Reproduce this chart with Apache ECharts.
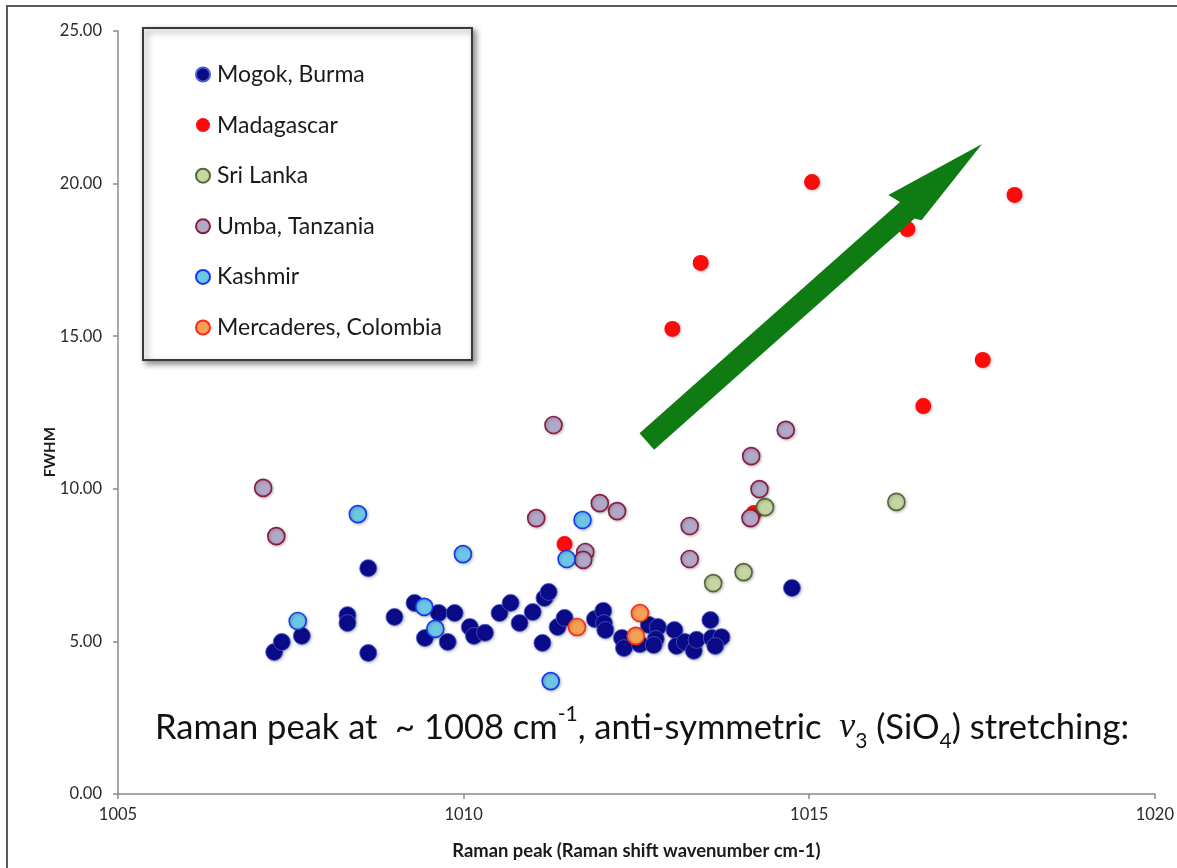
<!DOCTYPE html>
<html>
<head>
<meta charset="utf-8">
<script src="https://cdn.jsdelivr.net/npm/echarts@6/dist/echarts.min.js"></script>
<style>
  html, body { margin: 0; padding: 0; background: #ffffff; }
  #chart { width: 1177px; height: 868px; }
</style>
</head>
<body>
<div id="chart"></div>
<script>
// Raman peak position (cm-1) and FWHM for sapphire samples by origin
const seriesNames = ['Mogok, Burma', 'Madagascar', 'Sri Lanka', 'Umba, Tanzania', 'Kashmir', 'Mercaderes, Colombia'];

const mogok = [
  [1007.26, 4.65], [1007.37, 4.98], [1007.66, 5.18], [1008.62, 7.40], [1008.32, 5.86],
  [1008.32, 5.60], [1008.62, 4.62], [1009.00, 5.80], [1009.29, 6.26], [1009.64, 5.93],
  [1009.87, 5.93], [1009.44, 5.11], [1009.77, 4.98], [1010.09, 5.47], [1010.15, 5.18],
  [1010.31, 5.28], [1010.52, 5.93], [1010.68, 6.26], [1010.81, 5.60], [1011.00, 5.96],
  [1011.17, 6.42], [1011.23, 6.62], [1011.14, 4.95], [1011.36, 5.47], [1011.46, 5.77],
  [1011.90, 5.73], [1012.02, 6.00], [1012.03, 5.60], [1012.05, 5.37], [1012.29, 5.11],
  [1012.32, 4.78], [1012.55, 4.91], [1012.68, 5.54], [1012.81, 5.47], [1012.78, 5.08],
  [1012.75, 4.88], [1013.05, 5.37], [1013.08, 4.85], [1013.20, 4.98], [1013.33, 4.69],
  [1013.37, 5.05], [1013.57, 5.70], [1013.59, 5.11], [1013.73, 5.14], [1013.64, 4.85],
  [1014.75, 6.75]
];
const madagascar = [
  [1015.04, 20.05], [1017.97, 19.63], [1016.42, 18.51], [1013.43, 17.40], [1013.02, 15.24],
  [1017.51, 14.22], [1016.65, 12.71], [1011.46, 8.19], [1014.20, 9.21]
];
const sriLanka = [
  [1013.61, 6.91], [1014.05, 7.27], [1014.36, 9.40], [1016.26, 9.57]
];
const umba = [
  [1007.10, 10.03], [1007.29, 8.45], [1011.30, 12.09], [1011.05, 9.04], [1011.97, 9.53],
  [1012.22, 9.27], [1011.76, 7.93], [1011.73, 7.67], [1013.27, 8.78], [1013.27, 7.70],
  [1014.16, 11.07], [1014.28, 9.99], [1014.15, 9.04], [1014.66, 11.93]
];
const kashmir = [
  [1007.60, 5.67], [1008.47, 9.17], [1009.43, 6.13], [1009.59, 5.41], [1009.99, 7.86],
  [1011.72, 8.98], [1011.49, 7.70], [1011.26, 3.70]
];
const mercaderes = [
  [1011.64, 5.47], [1012.55, 5.93], [1012.49, 5.18]
];

// Axis ranges and tick step
const xRange = [1005, 1020, 5];
const yRange = [0, 25, 5];

// Trend arrow, tail and tip in data units
const arrowTail = [1012.65, 11.55];
const arrowTip = [1017.50, 21.30];

const FONT = 'Lato, "Open Sans", sans-serif';

const styles = [
  { color: '#0b0b8a', borderColor: '#4b5bd0', borderWidth: 0.8, size: 17 },
  { color: '#ff0a0a', borderColor: '#ff0a0a', borderWidth: 0, size: 16 },
  { color: '#c6d6a2', borderColor: '#56663a', borderWidth: 1.6, size: 17 },
  { color: '#b1a8c7', borderColor: '#8a1a40', borderWidth: 1.6, size: 17 },
  { color: '#6cc6e4', borderColor: '#1437f5', borderWidth: 1.6, size: 17 },
  { color: '#f6a055', borderColor: '#ff2a1a', borderWidth: 1.6, size: 17 }
];
const datasets = [mogok, madagascar, sriLanka, umba, kashmir, mercaderes];

const chart = echarts.init(document.getElementById('chart'), null, { renderer: 'canvas' });

const series = datasets.map((d, i) => ({
  name: seriesNames[i],
  type: 'scatter',
  data: d,
  symbol: 'circle',
  symbolSize: styles[i].size,
  itemStyle: {
    color: styles[i].color,
    borderColor: styles[i].borderColor,
    borderWidth: styles[i].borderWidth,
    opacity: 1,
    shadowColor: 'rgba(0,0,0,0.25)',
    shadowBlur: 3,
    shadowOffsetX: 1,
    shadowOffsetY: 1
  },
  emphasis: { disabled: true },
  z: 2 + i
}));

chart.setOption({
  animation: false,
  backgroundColor: '#ffffff',
  grid: { left: 118, right: 12, top: 31, bottom: 74 },
  xAxis: {
    type: 'value',
    min: xRange[0], max: xRange[1], interval: xRange[2],
    name: 'Raman peak (Raman shift wavenumber cm-1)',
    nameLocation: 'middle',
    nameGap: 48,
    nameTextStyle: { fontFamily: FONT, fontWeight: 'bold', fontSize: 18.4, color: '#1a1a1a' },
    axisLine: { show: true, lineStyle: { color: '#8a8a8a', width: 1.5 } },
    axisTick: { show: true, length: 5, lineStyle: { color: '#8a8a8a', width: 1.5 } },
    axisLabel: { fontFamily: FONT, fontSize: 16.5, color: '#2a2a2a', margin: 12,
      formatter: v => String(v) },
    splitLine: { show: false }
  },
  yAxis: {
    type: 'value',
    min: yRange[0], max: yRange[1], interval: yRange[2],
    axisLine: { show: true, lineStyle: { color: '#8a8a8a', width: 1.5 } },
    axisTick: { show: true, length: 5, lineStyle: { color: '#8a8a8a', width: 1.5 } },
    axisLabel: { fontFamily: FONT, fontSize: 16.5, color: '#2a2a2a', margin: 16,
      formatter: v => v.toFixed(2) },
    splitLine: { show: false }
  },
  legend: {
    orient: 'vertical',
    left: 143, top: 28,
    padding: [35, 30, 21, 52],
    itemGap: 27.6,
    itemWidth: 14, itemHeight: 14,
    icon: 'circle',
    backgroundColor: '#ffffff',
    borderColor: '#3a3a3a',
    borderWidth: 2,
    shadowColor: 'rgba(0,0,0,0.45)',
    shadowBlur: 6,
    shadowOffsetX: 3,
    shadowOffsetY: 3,
    textStyle: { fontFamily: FONT, fontSize: 23, color: '#1a1a1a', lineHeight: 20, padding: [0, 0, 0, 2] },
    selectedMode: false,
    data: seriesNames
  },
  series: series
});

// Decorations placed from axis coordinates
function drawGraphics() {
  const p0 = chart.convertToPixel({ gridIndex: 0 }, arrowTail);
  const p1 = chart.convertToPixel({ gridIndex: 0 }, arrowTip);
  const dx = p1[0] - p0[0], dy = p1[1] - p0[1];
  const len = Math.hypot(dx, dy);
  const ux = dx / len, uy = dy / len;
  const nx = -uy, ny = ux;
  const shaftHalf = 11, headLen = 100, headLeft = 24, headRight = 17;
  const at = (a, p) => [p0[0] + ux * a + nx * p, p0[1] + uy * a + ny * p];
  const hb = len - headLen;
  const arrowPts = [
    at(0, -shaftHalf), at(hb, -shaftHalf), at(hb - 4, -headLeft), at(len, 0),
    at(hb + 4, headRight), at(hb, shaftHalf), at(0, shaftHalf)
  ];

  const yMid = chart.convertToPixel({ gridIndex: 0 }, [xRange[0], 11.2]);

  chart.setOption({
    graphic: [
      {
        type: 'polyline', silent: true, z: 0,
        shape: { points: [[7, 868], [7, 6], [1177, 6]] },
        style: { stroke: '#5a5a5a', lineWidth: 2, fill: null }
      },
      {
        type: 'polygon', silent: true, z: 20,
        shape: { points: arrowPts },
        style: { fill: '#0e7c12' }
      },
      {
        type: 'text', silent: true, z: 20,
        x: 50, y: yMid[1], rotation: Math.PI / 2,
        style: {
          text: 'FWHM', fontFamily: FONT, fontWeight: 'bold', fontSize: 15,
          fill: '#1a1a1a', align: 'center', verticalAlign: 'middle'
        }
      },
      {
        type: 'text', silent: true, z: 20,
        x: 155, y: 728,
        style: {
          text: '{n|Raman peak at  ~ 1008 cm}{sup|-1}{n|, anti-symmetric  }{it|ν}{sub|3}{n| (SiO}{sub|4}{n|) stretching:}',
          fontFamily: FONT, fontSize: 34.5, fill: '#111111',
          align: 'left', verticalAlign: 'middle',
          rich: {
            n: { fontFamily: FONT, fontSize: 34.5, lineHeight: 48, fill: '#111111', verticalAlign: 'middle' },
            sup: { fontFamily: FONT, fontSize: 21, lineHeight: 48, fill: '#111111', verticalAlign: 'top' },
            sub: { fontFamily: FONT, fontSize: 21, lineHeight: 48, fill: '#111111', verticalAlign: 'bottom' },
            it: { fontFamily: '"Liberation Serif", serif', fontStyle: 'italic', fontSize: 36, lineHeight: 48, fill: '#111111', verticalAlign: 'middle' }
          }
        }
      }
    ]
  });
}
drawGraphics();
</script>
</body>
</html>
